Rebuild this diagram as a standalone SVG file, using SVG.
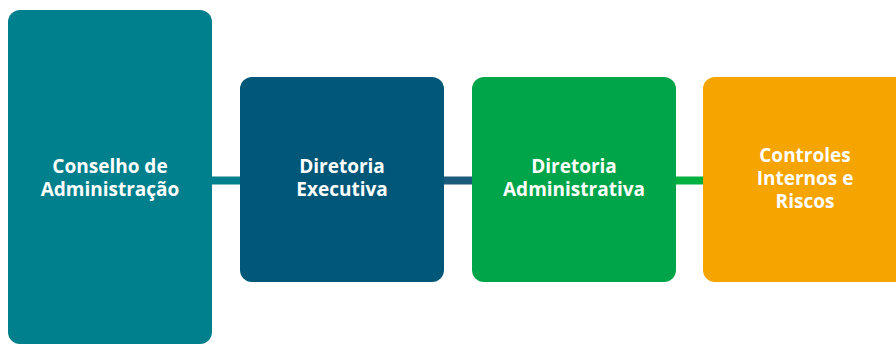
<svg xmlns="http://www.w3.org/2000/svg" width="896" height="345" viewBox="0 0 896 345">
<style>
.t{font-family:"Open Sans","Noto Sans","Liberation Sans",sans-serif;font-weight:bold;font-size:19px;fill:#ffffff;text-anchor:middle}
</style>
<rect width="896" height="345" fill="#ffffff"/>
<g id="connectors">
<rect x="211" y="176.5" width="30" height="8" fill="#007F8C"/>
<rect x="443" y="176.5" width="30" height="8" fill="#1A5A7C"/>
<rect x="675" y="176.5" width="29" height="8" fill="#00B140"/>
</g>
<g id="conselho">
<rect x="8" y="10" width="204" height="334" rx="12" fill="#007F8C"/>
<text class="t"><tspan x="110" y="173">Conselho de</tspan><tspan x="110" y="196">Administração</tspan></text>
</g>
<g id="diretoria-executiva">
<rect x="240" y="77" width="204" height="205" rx="12" fill="#005778"/>
<text class="t"><tspan x="342" y="173">Diretoria</tspan><tspan x="342" y="196">Executiva</tspan></text>
</g>
<g id="diretoria-administrativa">
<rect x="472" y="77" width="204" height="205" rx="12" fill="#00A54A"/>
<text class="t"><tspan x="574" y="173">Diretoria</tspan><tspan x="574" y="196">Administrativa</tspan></text>
</g>
<g id="controles">
<rect x="703" y="77" width="204" height="205" rx="12" fill="#F5A400"/>
<text class="t"><tspan x="805" y="162">Controles</tspan><tspan x="805" y="185">Internos e</tspan><tspan x="805" y="208">Riscos</tspan></text>
</g>
</svg>
